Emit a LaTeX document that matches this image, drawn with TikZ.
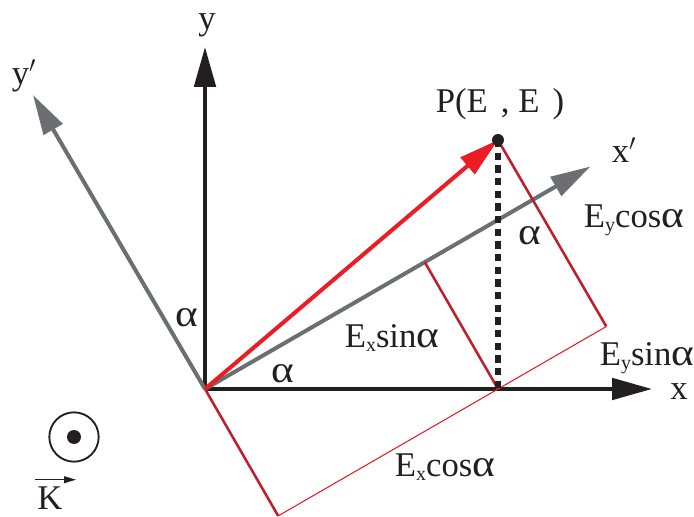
\documentclass[tikz,border=0pt]{standalone}
\usepackage{fontspec}
\setmainfont{Liberation Serif}
\usetikzlibrary{arrows.meta,calc}
\definecolor{axblack}{HTML}{231F20}
\definecolor{axgray}{HTML}{6D6E71}
\definecolor{vred}{HTML}{ED1C24}
\definecolor{dred}{HTML}{BE1E2D}
\newcommand\sbx[1]{\raisebox{-0.12em}{\fontsize{15}{15}\selectfont #1}}
\newcommand\alp{\scalebox{1.25}[1.1]{α}}
\begin{document}
\begin{tikzpicture}[x=0.75pt,y=-0.75pt,
  bighead/.style={-{Triangle[length=30pt,width=16pt]}},
  axisline/.style={bighead,line width=3pt,draw=axblack},
  rotline/.style={bighead,line width=3pt,draw=axgray},
  vecline/.style={bighead,line width=3pt,draw=vred},
  projthick/.style={line width=1.9pt,draw=dred},
  projthin/.style={line width=0.8pt,draw=vred},
  dropline/.style={line width=4pt,draw=axblack,dash pattern=on 5.5pt off 4pt},
  lbl/.style={inner sep=0pt,font=\fontsize{26}{30}\selectfont,text=axblack}]
\useasboundingbox (0,0) rectangle (694,517);
% key points
\coordinate (O) at (205,389);
\coordinate (P) at (498,140);
\coordinate (F) at (498,389);
\coordinate (Yt) at (205,47);
\coordinate (Xt) at (652,389);
\coordinate (Xpt) at ($(O)+(385.4,-222.5)$);
\coordinate (Ypt) at ($(O)+(-172,-294)$);
\coordinate (A) at ($(O)!(F)!(Xpt)$);
\coordinate (B) at ($(F)+(108.3,-62.5)$);
\coordinate (C) at ($(O)+(73.2,126.9)$);
% axes
\draw[axisline] (O) -- (Yt);
\draw[axisline] (O) -- (Xt);
\draw[rotline] (O) -- (Ypt);
\draw[rotline] (O) -- (Xpt);
% projections
\draw[projthick] (A) -- (F);
\draw[projthick] (P) -- (B);
\draw[projthick] (O) -- (C);
\draw[projthin] (C) -- (B);
\draw[dropline] (P) -- (F);
% vector
\draw[vecline] (O) -- (P);
\node[circle,fill=axblack,inner sep=0pt,minimum size=9pt] (Pdot) at (P) {};
% labels
\node[lbl] (ly) at (207,25) {y};
\node[lbl] (lyp) at (24,76) {y$'$};
\node[lbl] (lxp) at (624,150) {x$'$};
\node[lbl] (lx) at (679,392) {x};
\node[lbl] (lP) at (500,104) {P(E\hspace{0.38em}, E\hspace{0.38em})};
\node[lbl] (a1) at (187,318) {\alp};
\node[lbl] (a2) at (283,374) {\alp};
\node[lbl] (a3) at (530,236) {\alp};
\node[lbl] (l1) at (392,338) {E\sbx{x}sin\alp};
\node[lbl] (l2) at (634,220) {E\sbx{y}cos\alp};
\node[lbl] (l3) at (647,358) {E\sbx{y}sin\alp};
\node[lbl] (l4) at (445,467) {E\sbx{x}cos\alp};
% out-of-plane symbol
\node[circle,draw=axblack,line width=1.4pt,minimum size=37pt,inner sep=0pt] (circ) at (74,437) {};
\node[circle,fill=axblack,minimum size=10.5pt,inner sep=0pt] (cdot) at (circ.center) {};
\node[lbl] (K) at (50,498) {K};
\draw[line width=1.1pt,draw=axblack,-{Triangle[length=9pt,width=5pt]}] ([xshift=-2pt,yshift=5pt]K.north west) -- ([xshift=10pt,yshift=5pt]K.north east);
\end{tikzpicture}
\end{document}
